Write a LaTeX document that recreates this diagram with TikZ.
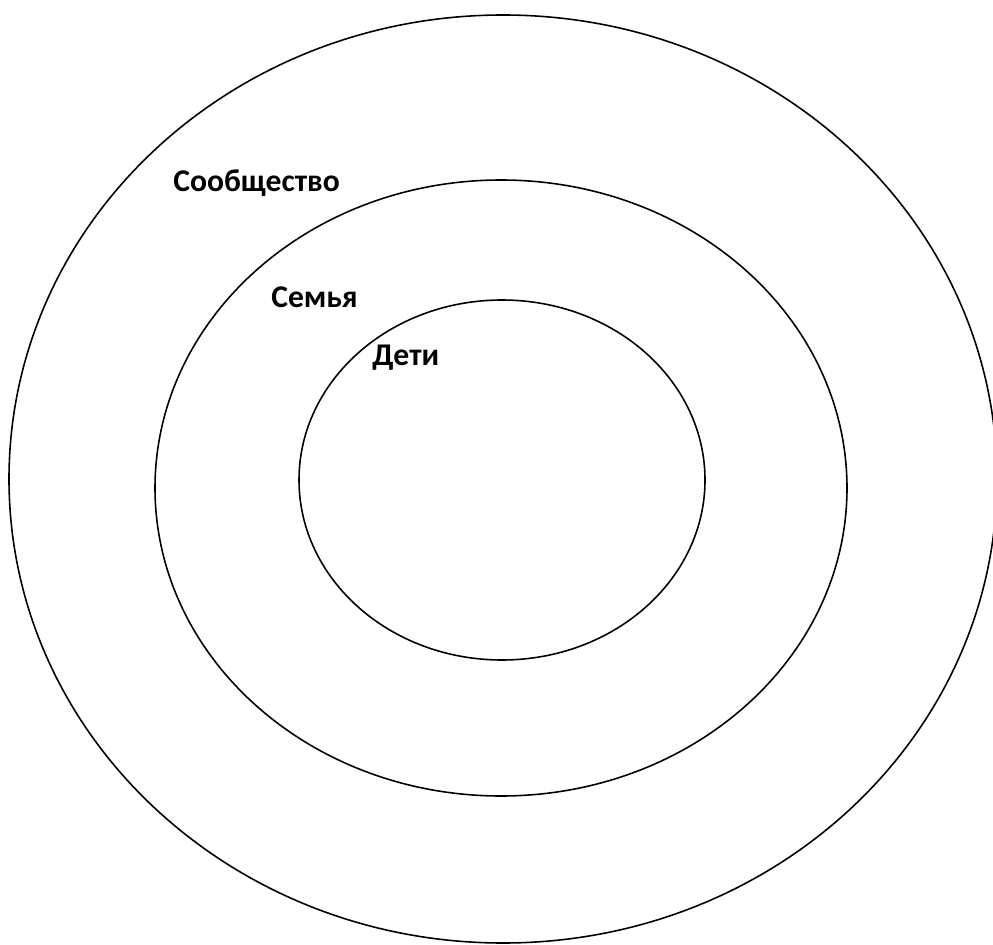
\documentclass[tikz,border=0pt]{standalone}
\usepackage{fontspec}
\setmainfont{Carlito}
\usetikzlibrary{positioning}

\begin{document}
\begin{tikzpicture}[x=0.02cm,y=-0.02cm,
    ring/.style={draw=black, line width=0.9pt},
    ringlabel/.style={anchor=west, inner sep=0pt, font=\fontsize{18}{21}\selectfont\bfseries}]
    \useasboundingbox (0,0) rectangle (993,945);
    \clip (0,0) rectangle (993,945);

    % Circles of the community
    \draw[ring] (503,479) ellipse [x radius=494, y radius=464];
    \draw[ring] (501,488) ellipse [x radius=346, y radius=308];
    \draw[ring] (502,480) ellipse [x radius=203, y radius=180];

    % Labels
    \node[ringlabel] (community) at (173,183) {Сообщество};
    \node[ringlabel] (family) at (271,297) {Семья};
    \node[ringlabel] (children) at (372,358) {Дети};
\end{tikzpicture}
\end{document}
